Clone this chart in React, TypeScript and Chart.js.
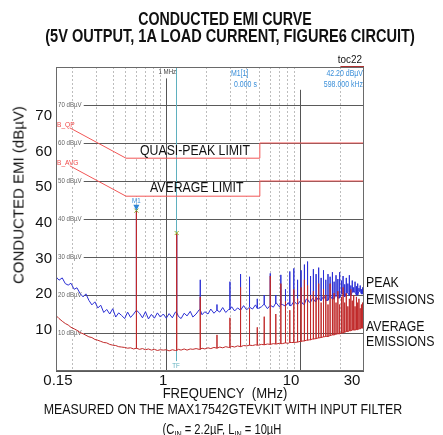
import React, { useEffect, useRef } from "react";
import { Chart, registerables } from "chart.js";
Chart.register(...registerables);

const SANS = '"Liberation Sans", Arial, Helvetica, sans-serif';
const NARROW_X = 0.82;

// ---- data ----
const sweepFreqs = [
  0.150, 0.158, 0.167, 0.176, 0.185, 0.194, 0.205, 0.215, 0.227, 0.239, 0.251, 0.264, 0.278, 0.293, 0.308, 0.324, 0.341, 0.359, 0.378, 0.398, 0.419, 0.441, 0.464, 0.489, 0.514, 0.541, 0.570, 0.599, 0.631, 0.664, 0.699, 0.736, 0.774, 0.815, 0.858, 0.903, 0.950,
  1.00, 1.05, 1.11, 1.17, 1.23, 1.29, 1.36, 1.43, 1.51, 1.58, 1.67, 1.76, 1.85, 1.94, 2.05, 2.15, 2.27, 2.39, 2.51, 2.64, 2.78, 2.93, 3.08, 3.24, 3.41, 3.59, 3.78, 3.98, 4.19, 4.41, 4.64, 4.89, 5.14, 5.41, 5.70, 5.99, 6.31, 6.64, 6.99, 7.36, 7.74, 8.15, 8.58, 9.03, 9.50,
  10.0, 10.5, 11.1, 11.7, 12.3, 12.9, 13.6, 14.3, 15.1, 15.8, 16.7, 17.6, 18.5, 19.4, 20.5, 21.5, 22.7, 23.9, 25.1, 26.4, 27.8, 29.3, 30.0,
];

const peakTrace = [
  24.8, 23.9, 24.5, 23.0, 22.6, 23.1, 21.5, 21.9, 20.4, 19.5, 20.3, 18.6, 17.4, 18.2, 16.6, 17.3, 15.4, 16.2, 15.0, 16.4, 14.2, 15.3, 14.6, 13.8, 15.5, 14.1, 15.0, 16.0, 15.2, 14.0, 15.6, 13.7, 14.9, 13.9, 15.3, 14.2, 15.0,
  13.9, 15.1, 14.0, 15.5, 14.4, 13.8, 15.2, 14.5, 15.7, 14.2, 15.0, 16.1, 14.8, 15.6, 15.0, 16.3, 15.2, 16.0, 15.5, 16.7, 15.4, 16.2, 16.9, 15.8, 16.6, 16.0, 17.2, 16.1, 16.8, 16.3, 17.4, 16.5, 16.9, 17.6, 16.4, 17.3, 16.8, 17.9, 16.9, 17.5, 17.1, 18.0, 17.2, 18.3, 17.5,
  18.4, 17.6, 18.9, 18.1, 19.0, 18.3, 19.3, 18.5, 19.7, 18.6, 19.8, 19.0, 20.1, 19.2, 20.4, 19.5, 20.6, 19.9, 20.8, 20.0, 21.0, 20.3, 20.7,
];

const avgTrace = [
  14.6, 13.8, 13.1, 12.5, 12.1, 11.5, 11.1, 10.7, 10.1, 9.8, 9.4, 9.0, 8.8, 8.3, 8.1, 7.8, 7.5, 7.4, 7.0, 6.8, 6.7, 6.4, 6.3, 6.2, 6.0, 6.1, 5.8, 6.0, 5.7, 5.9, 5.6, 5.8, 5.5, 5.7, 5.4, 5.6, 5.5,
  5.6, 5.3, 5.6, 5.4, 5.7, 5.5, 5.8, 5.5, 5.8, 5.7, 5.9, 5.7, 6.0, 5.8, 6.1, 5.9, 6.2, 6.0, 6.3, 6.1, 6.4, 6.2, 6.5, 6.3, 6.6, 6.4, 6.7, 6.6, 6.8, 6.7, 6.9, 6.8, 7.0, 6.9, 7.1, 7.0, 7.2, 7.1, 7.3, 7.2, 7.4, 7.3, 7.5, 7.5, 7.6,
  7.8, 7.9, 8.1, 8.2, 8.4, 8.5, 8.7, 8.8, 9.0, 9.1, 9.3, 9.5, 9.7, 9.8, 10.0, 10.2, 10.4, 10.6, 10.8, 10.9, 11.1, 11.3, 11.4,
];

const harmonicFreqs = [
  0.598, 1.196, 1.794, 2.392, 2.990, 3.588, 4.186, 4.784, 5.382, 5.980,
  6.578, 7.176, 7.774, 8.372, 8.970, 9.568, 10.166, 10.764, 11.362, 11.960,
  12.558, 13.156, 13.754, 14.352, 14.950, 15.548, 16.146, 16.744, 17.342, 17.940,
  18.538, 19.136, 19.734, 20.332, 20.930, 21.528, 22.126, 22.724, 23.322, 23.920,
  24.518, 25.116, 25.714, 26.312, 26.910, 27.508, 28.106, 28.704, 29.302, 29.900,
];
const peakHarmonics = [
  42.2, 36.0, 24.0, 17.5, 23.5, 25.5, 24.8, 19.0, 20.0, 25.7,
  20.0, 25.3, 21.5, 26.2, 27.0, 24.0, 26.5, 28.0, 28.8, 25.0,
  26.8, 25.5, 27.2, 24.5, 26.5, 24.0, 25.5, 24.8, 26.0, 23.5,
  25.2, 24.2, 26.0, 23.8, 25.0, 22.8, 24.5, 23.0, 25.2, 22.5,
  23.8, 22.0, 23.5, 22.3, 23.0, 21.8, 22.5, 21.5, 22.0, 21.5,
];
const avgHarmonics = [
  42.0, 36.3, 19.5, 9.5, 14.0, 22.0, 16.5, 11.5, 14.3, 25.0,
  15.0, 23.0, 18.3, 16.0, 21.5, 19.0, 22.0, 24.0, 22.5, 20.0,
  21.0, 19.5, 23.0, 18.0, 21.5, 20.0, 17.5, 23.0, 19.0, 20.5,
  18.0, 21.0, 17.5, 19.5, 22.0, 18.0, 20.5, 17.0, 19.0, 21.5,
  18.5, 20.0, 17.0, 19.5, 18.0, 19.0, 16.5, 17.5, 18.0, 16.0,
];

const qpLimitFreqs = [0.19, 0.5, 5, 5, 30];
const qpLimitVals = [64.0, 56, 56, 60, 60];
const avgLimitFreqs = [0.19, 0.5, 5, 5, 30];
const avgLimitVals = [54.0, 46, 46, 50, 50];

const xTickVals = [0.15, 1, 10, 30];
const xTickLabels = ["0.15", "1", "10", "30"];
const yTickVals = [10, 20, 30, 40, 50, 60, 70];
const innerGridVals = [10, 20, 30, 40, 50, 60, 70];
const minorFreqs = [0.2, 0.3, 0.4, 0.5, 0.6, 0.7, 0.8, 0.9, 2, 3, 4, 5, 6, 7, 8, 9, 20];
const markerFreq = 0.598;
const markerLevel = 42.2;
const marker2Freq = 1.196;
const marker2Level = 36.3;
const tfFreq = 1.18;

function buildTrace(base: number[], hf: number[], hv: number[]) {
  const pts: { x: number; y: number }[] = sweepFreqs.map((f, i) => ({ x: f, y: base[i] }));
  hf.forEach((f, k) => {
    let j = 0;
    let best = Infinity;
    sweepFreqs.forEach((s, i) => {
      const d = Math.abs(Math.log(s / f));
      if (d < best) { best = d; j = i; }
    });
    const b = base[j];
    pts.push({ x: f, y: b }, { x: f, y: hv[k] }, { x: f, y: b });
  });
  return pts.sort((a, b) => a.x - b.x);
}

function narrowText(ctx: CanvasRenderingContext2D, t: string, x: number, y: number, align: CanvasTextAlign) {
  ctx.save();
  ctx.translate(x, y);
  ctx.scale(NARROW_X, 1);
  ctx.textAlign = align;
  ctx.fillText(t, 0, 0);
  ctx.restore();
}

const decorPlugin = {
  id: "decor",
  beforeDatasetsDraw(chart: any) {
    const { ctx, chartArea: a, scales } = chart;
    const x = scales.x, y = scales.y;
    ctx.save();
    ctx.fillStyle = "#ffffff";
    const bx0 = x.getPixelForValue(qpLimitFreqs[1]);
    const bx1 = x.getPixelForValue(qpLimitFreqs[3]);
    const q1 = y.getPixelForValue(qpLimitVals[3]);
    const q0 = y.getPixelForValue(qpLimitVals[1]);
    ctx.fillRect(bx0, q1 + 1, bx1 - bx0, q0 - q1 - 1);
    const a1 = y.getPixelForValue(avgLimitVals[3]);
    const a0 = y.getPixelForValue(avgLimitVals[1]);
    ctx.fillRect(bx0, a1 + 1, bx1 - bx0, a0 - a1 - 1);

    ctx.strokeStyle = "#555";
    ctx.lineWidth = 1;
    const m1 = Math.round(x.getPixelForValue(1)) + 0.5;
    ctx.beginPath();
    ctx.moveTo(m1, y.getPixelForValue(77));
    ctx.lineTo(m1, a.bottom);
    const m10 = Math.round(x.getPixelForValue(10)) + 0.5;
    ctx.moveTo(m10, y.getPixelForValue(74));
    ctx.lineTo(m10, a.bottom);
    ctx.stroke();

    ctx.strokeStyle = "#5fb0bf";
    const tx = Math.round(x.getPixelForValue(tfFreq)) + 0.5;
    ctx.beginPath();
    ctx.moveTo(tx, a.top);
    ctx.lineTo(tx, y.getPixelForValue(2.6));
    ctx.stroke();

    ctx.font = "7.5px " + SANS;
    ctx.textBaseline = "middle";
    innerGridVals.forEach((v) => {
      const py = y.getPixelForValue(v);
      const t = v + " dB\u00b5V";
      const w = ctx.measureText(t).width * NARROW_X;
      ctx.fillStyle = "#ffffff";
      ctx.fillRect(a.left + 1, py - 4, w + 3, 8);
      ctx.fillStyle = "#666";
      narrowText(ctx, t, a.left + 2, py, "left");
    });
    ctx.restore();
  },
  afterDatasetsDraw(chart: any) {
    const { ctx, chartArea: a, scales } = chart;
    const x = scales.x, y = scales.y;
    ctx.save();
    const bx0 = x.getPixelForValue(qpLimitFreqs[1]);
    ctx.fillStyle = "#111";
    ctx.font = "15px " + SANS;
    ctx.textBaseline = "middle";
    const qm = (y.getPixelForValue(qpLimitVals[3]) + y.getPixelForValue(qpLimitVals[1])) / 2;
    narrowText(ctx, "QUASI-PEAK LIMIT", bx0 + 14, qm + 0.5, "left");
    const am = (y.getPixelForValue(avgLimitVals[3]) + y.getPixelForValue(avgLimitVals[1])) / 2;
    narrowText(ctx, "AVERAGE LIMIT", bx0 + 24, am - 0.5, "left");

    ctx.fillStyle = "#f04848";
    ctx.font = "8px " + SANS;
    narrowText(ctx, "B_QP", a.left + 1, y.getPixelForValue(qpLimitVals[0]) - 3, "left");
    narrowText(ctx, "B_AVG", a.left + 1, y.getPixelForValue(avgLimitVals[0]) - 3, "left");

    ctx.fillStyle = "#444";
    ctx.font = "7.5px " + SANS;
    narrowText(ctx, "1 MHz", x.getPixelForValue(1) + 1, a.top + 5, "center");

    ctx.fillStyle = "#3b8fd9";
    ctx.font = "8.5px " + SANS;
    narrowText(ctx, "M1[1]", a.left + 175, a.top + 7, "left");
    narrowText(ctx, "0.000 s", a.left + 178, a.top + 18, "left");
    narrowText(ctx, "42.20 dB\u00b5V", a.right - 1, a.top + 7, "right");
    narrowText(ctx, "598.000 kHz", a.right - 1, a.top + 18, "right");

    ctx.strokeStyle = "#8fae2a";
    ctx.lineWidth = 1;
    [[markerFreq, markerLevel], [marker2Freq, marker2Level]].forEach(([f, v]) => {
      const px = x.getPixelForValue(f), py = y.getPixelForValue(v);
      ctx.beginPath();
      ctx.moveTo(px - 2, py - 2); ctx.lineTo(px + 2, py + 2);
      ctx.moveTo(px + 2, py - 2); ctx.lineTo(px - 2, py + 2);
      ctx.stroke();
    });

    const mx = x.getPixelForValue(markerFreq), my = y.getPixelForValue(markerLevel);
    ctx.fillStyle = "#2f86d6";
    ctx.beginPath();
    ctx.moveTo(mx - 3, my - 6);
    ctx.lineTo(mx + 3, my - 6);
    ctx.lineTo(mx, my);
    ctx.closePath();
    ctx.fill();
    ctx.font = "7.5px " + SANS;
    ctx.fillStyle = "#3b8fd9";
    narrowText(ctx, "M1", mx, my - 10, "center");

    ctx.fillStyle = "#5fb0bf";
    narrowText(ctx, "TF", x.getPixelForValue(tfFreq), y.getPixelForValue(1.3), "center");

    ctx.strokeStyle = "#b03030";
    ctx.lineWidth = 2;
    ctx.beginPath();
    ctx.moveTo(x.getPixelForValue(20), a.top);
    ctx.lineTo(a.right, a.top);
    ctx.stroke();
    ctx.restore();
  },
  afterDraw(chart: any) {
    const { ctx, chartArea: a } = chart;
    ctx.save();
    ctx.strokeStyle = "#6a6a6a";
    ctx.lineWidth = 1;
    ctx.strokeRect(Math.round(a.left) + 0.5, Math.round(a.top) + 0.5, Math.round(a.width) - 1, Math.round(a.height) - 1);
    ctx.restore();
  },
};

export default function App() {
  const ref = useRef<HTMLCanvasElement | null>(null);
  useEffect(() => {
    if (!ref.current) return;
    const chart = new Chart(ref.current, {
      type: "line",
      data: {
        datasets: [
          {
            data: qpLimitFreqs.map((f, i) => ({ x: f, y: qpLimitVals[i] })),
            borderColor: "#f25656",
            borderWidth: 1,
            pointRadius: 0,
            order: 0,
          },
          {
            data: avgLimitFreqs.map((f, i) => ({ x: f, y: avgLimitVals[i] })),
            borderColor: "#f25656",
            borderWidth: 1,
            pointRadius: 0,
            order: 1,
          },
          {
            data: buildTrace(avgTrace, harmonicFreqs, avgHarmonics),
            borderColor: "#c02a2a",
            borderWidth: 1,
            pointRadius: 0,
            order: 2,
          },
          {
            data: buildTrace(peakTrace, harmonicFreqs, peakHarmonics),
            borderColor: "#2b2fd4",
            borderWidth: 1,
            pointRadius: 0,
            order: 3,
          },
        ],
      },
      options: {
        animation: false,
        responsive: false,
        events: [],
        layout: { padding: { left: 0, top: 67, right: 79, bottom: 39 } },
        plugins: { legend: { display: false }, tooltip: { enabled: false }, title: { display: false } },
        elements: { line: { tension: 0 } },
        scales: {
          x: {
            type: "logarithmic",
            position: "bottom",
            min: 0.15,
            max: 30,
            ticks: { display: false },
            grid: { color: "#bdbdbd", drawTicks: false, lineWidth: 1 },
            border: { display: false, dash: [2, 2] },
            afterBuildTicks: (s: any) => { s.ticks = minorFreqs.map((v) => ({ value: v })); },
            afterFit: (s: any) => { s.height = 0; },
          },
          x2: {
            type: "logarithmic",
            position: "bottom",
            min: 0.145,
            max: 37.2,
            grid: { display: false, drawTicks: false },
            border: { display: false },
            ticks: {
              autoSkip: false,
              maxRotation: 0,
              padding: 1,
              color: "#111",
              font: { family: SANS, size: 15 },
              callback: (_v: any, i: number) => xTickLabels[i],
            },
            afterBuildTicks: (s: any) => { s.ticks = xTickVals.map((v) => ({ value: v })); },
            afterFit: (s: any) => { s.height = 25; },
          },
          y: {
            type: "linear",
            position: "left",
            min: 0,
            max: 80,
            ticks: { display: false, stepSize: 10 },
            grid: { color: "#5a5a5a", drawTicks: false, lineWidth: 1 },
            border: { display: false },
            afterFit: (s: any) => { s.width = 0; },
          },
          y2: {
            type: "linear",
            position: "left",
            min: -1.5,
            max: 83.7,
            grid: { display: false, drawTicks: false },
            border: { display: false },
            ticks: {
              padding: 4,
              color: "#111",
              font: { family: SANS, size: 15 },
            },
            afterBuildTicks: (s: any) => { s.ticks = yTickVals.map((v) => ({ value: v })); },
            afterFit: (s: any) => { s.width = 56; },
          },
        },
      },
      plugins: [decorPlugin],
    } as any);
    return () => chart.destroy();
  }, []);

  const base: React.CSSProperties = {
    position: "absolute",
    fontFamily: SANS,
    color: "#111",
    whiteSpace: "nowrap",
    margin: 0,
  };
  const centered = (cx: number, top: number, size: number, sx: number, extra: React.CSSProperties = {}): React.CSSProperties => ({
    ...base,
    left: cx - 250,
    width: 500,
    top,
    textAlign: "center",
    fontSize: size,
    lineHeight: size + "px",
    transform: `scaleX(${sx})`,
    transformOrigin: "center center",
    ...extra,
  });
  const leftAt = (left: number, top: number, size: number): React.CSSProperties => ({
    ...base,
    left,
    top,
    fontSize: size,
    lineHeight: size + "px",
    transform: `scaleX(${NARROW_X})`,
    transformOrigin: "left center",
  });
  const subStyle: React.CSSProperties = { fontSize: 9, verticalAlign: "-3px", lineHeight: 0 };

  return (
    <div style={{ position: "absolute", left: 0, top: 0, width: 443, height: 435, background: "#fff", overflow: "hidden" }}>
      <canvas ref={ref} width={443} height={435} style={{ position: "absolute", left: 0, top: 0, width: 443, height: 435 }} />
      <div style={centered(225, 9.7, 18, 0.79, { fontWeight: "bold" })}>CONDUCTED EMI CURVE</div>
      <div style={centered(230, 27.2, 18, 0.81, { fontWeight: "bold" })}>
        (5V OUTPUT, 1A LOAD CURRENT, FIGURE6 CIRCUIT)
      </div>
      <div style={{ ...base, left: 262, width: 100, top: 54, textAlign: "right", fontSize: 11, lineHeight: "11px", transform: "scaleX(0.9)", transformOrigin: "right center" }}>
        toc22
      </div>
      <div style={{ ...base, left: 18, top: 195, fontSize: 15, lineHeight: "15px", transform: "translate(-50%, -50%) rotate(-90deg)" }}>
        CONDUCTED EMI (dB&micro;V)
      </div>
      <div style={leftAt(366, 273.7, 15)}>PEAK</div>
      <div style={leftAt(366, 290.7, 15)}>EMISSIONS</div>
      <div style={leftAt(366, 317.7, 15)}>AVERAGE</div>
      <div style={leftAt(366, 332.7, 15)}>EMISSIONS</div>
      <div style={centered(225, 384.7, 15, 0.87)}>FREQUENCY&nbsp;&nbsp;(MHz)</div>
      <div style={centered(222.5, 402, 14, 0.885)}>MEASURED ON THE MAX17542GTEVKIT WITH INPUT FILTER</div>
      <div style={centered(222, 421.6, 14, 0.8)}>
        (C<sub style={subStyle}>IN</sub> = 2.2&micro;F, L<sub style={subStyle}>IN</sub> = 10&micro;H
      </div>
    </div>
  );
}
